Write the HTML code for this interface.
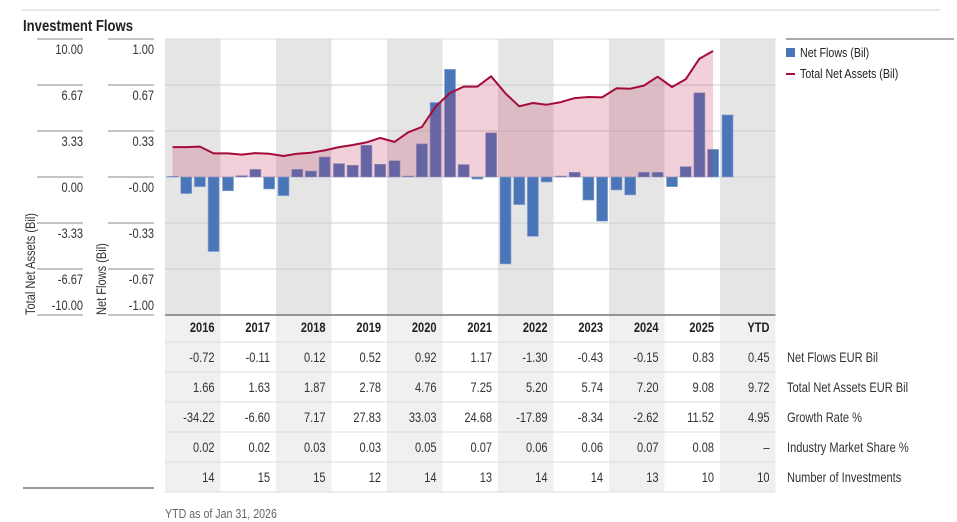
<!DOCTYPE html>
<html><head><meta charset="utf-8">
<style>
body{margin:0;background:#fff;}
svg{display:block;font-family:"Liberation Sans",sans-serif;}
</style></head>
<body>
<svg id="chart" width="957" height="522" viewBox="0 0 957 522">
<line x1="22" y1="10" x2="940" y2="10" stroke="#d0d0d0" stroke-width="1"/>
<text transform="translate(23,31) scale(0.82,1)" font-size="16" font-weight="bold" fill="#222">Investment Flows</text>
<g id="bg"></g>
<g id="grid"></g>
<g id="bars"></g>
<g id="area"></g>
<g id="axes"></g>
<g id="table"></g>
<g>
<line x1="786" y1="39" x2="954" y2="39" stroke="#555" stroke-width="1"/>
<rect x="786" y="48" width="9" height="9" fill="#4a76b8"/>
<text transform="translate(800,57) scale(0.82,1)" font-size="13" fill="#222">Net Flows (Bil)</text>
<line x1="786" y1="74" x2="795" y2="74" stroke="#a50b3a" stroke-width="2"/>
<text transform="translate(800,78) scale(0.82,1)" font-size="13" fill="#222">Total Net Assets (Bil)</text>
</g>
<line x1="23" y1="488" x2="154" y2="488" stroke="#333" stroke-width="1"/>
<text transform="translate(165,518) scale(0.82,1)" font-size="13" fill="#666">YTD as of Jan 31, 2026</text>
</svg>
<script>
const years = ["2016","2017","2018","2019","2020","2021","2022","2023","2024","2025","YTD"];
const flowQ = [
 [0.005,-0.12,-0.07,-0.54],[-0.10,0.01,0.055,-0.087],[-0.135,0.055,0.043,0.145],
 [0.097,0.085,0.23,0.092],[0.118,0.007,0.24,0.54],[0.78,0.09,-0.015,0.32],
 [-0.63,-0.20,-0.43,-0.036],[0.007,0.034,-0.167,-0.32],[-0.094,-0.13,0.034,0.034],
 [-0.07,0.075,0.61,0.20],[0.45]];
const tnaQ = [
 [2.17,2.17,2.2,1.71],[1.71,1.62,1.73,1.69],[1.52,1.69,1.76,1.93],
 [2.17,2.32,2.51,2.83],[2.54,3.24,3.62,5.1],[6.09,6.55,6.55,7.3],
 [6.06,5.12,5.36,5.24],[5.43,5.72,5.8,5.77],[6.43,6.4,6.62,7.27],
 [6.52,7.08,8.57,9.13]];
const flowTicks = ["1.00","0.67","0.33","-0.00","-0.33","-0.67","-1.00"];
const tnaTicks = ["10.00","6.67","3.33","0.00","-3.33","-6.67","-10.00"];
const rowLabels = ["Net Flows EUR Bil","Total Net Assets EUR Bil","Growth Rate %","Industry Market Share %","Number of Investments"];
const rowNetFlows = ["-0.72","-0.11","0.12","0.52","0.92","1.17","-1.30","-0.43","-0.15","0.83","0.45"];
const rowTNA = ["1.66","1.63","1.87","2.78","4.76","7.25","5.20","5.74","7.20","9.08","9.72"];
const rowGrowth = ["-34.22","-6.60","7.17","27.83","33.03","24.68","-17.89","-8.34","-2.62","11.52","4.95"];
const rowShare = ["0.02","0.02","0.03","0.03","0.05","0.07","0.06","0.06","0.07","0.08","–"];
const rowCount = ["14","15","15","12","14","13","14","14","13","10","10"];

const NS="http://www.w3.org/2000/svg";
function mk(tag,attrs,parent,txt){const e=document.createElementNS(NS,tag);for(const k in attrs)e.setAttribute(k,attrs[k]);if(txt!==undefined)e.textContent=txt;parent.appendChild(e);return e;}
function txt(parent,x,y,s,attrs,rot){const a=Object.assign({transform:'translate('+x+','+y+')'+(rot?' rotate('+rot+')':'')+' scale(0.82,1)','font-size':13.5,fill:'#333'},attrs||{});return mk('text',a,parent,s);}
const X0=165, CW=55.5, TOP=39, BOT=315, ZERO=177;
const colX=i=>X0+i*CW;
const yFlow=v=>ZERO-v*138;
const yTna=v=>ZERO-v*13.8;
const barX=(i,q)=>colX(i)+2+q*13.7;

const bg=document.getElementById('bg');
years.forEach((y,i)=>{
  if(i%2===0){
    const r=mk('rect',{x:colX(i),y:TOP,width:CW,height:BOT-TOP,fill:'#e5e5e5'},bg);
    
    
    const t=mk('rect',{x:colX(i),y:BOT,width:CW,height:492-BOT,fill:'#f0f0f0'},bg);
    
    
  }
});
const grid=document.getElementById('grid');
const axes=document.getElementById('axes');
flowTicks.forEach((lab,k)=>{
  const gy=TOP+k*46;
  const g=mk('line',{x1:X0,y1:gy,x2:colX(11),y2:gy,stroke:k===0?'#dcdcdc':'#cfcfcf','stroke-width':1},grid);
  
  
  mk('line',{x1:37,y1:gy,x2:83,y2:gy,stroke:'#888'},axes);
  mk('line',{x1:108,y1:gy,x2:154,y2:gy,stroke:'#888'},axes);
  const ty = k===6 ? 310 : gy+15;
  const a=txt(axes,83,ty,tnaTicks[k],{'text-anchor':'end'});
  
  
  const b=txt(axes,154,ty,lab,{'text-anchor':'end'});
  
  
});
mk('line',{x1:37,y1:BOT,x2:83,y2:BOT,stroke:'#888'},axes);
mk('line',{x1:108,y1:BOT,x2:154,y2:BOT,stroke:'#888'},axes);
mk('line',{x1:X0,y1:BOT,x2:colX(11),y2:BOT,stroke:'#777','stroke-width':1.5},axes);
const t1=txt(axes,35,315,'Total Net Assets (Bil)',{},-90);


const t2=txt(axes,106,315,'Net Flows (Bil)',{},-90);



const bars=document.getElementById('bars');
flowQ.forEach((qs,i)=>{
  qs.forEach((v,q)=>{
    const y1=yFlow(Math.max(v,0)), y2=yFlow(Math.min(v,0));
    const r=mk('rect',{x:barX(i,q),y:y1,width:11,height:Math.max(y2-y1,0.8),fill:'#4a76b8',stroke:'#8aa6d3','stroke-width':0.6},bars);
    
    
  });
});
const area=document.getElementById('area');
const pts=[];
tnaQ.forEach((qs,i)=>qs.forEach((v,q)=>pts.push([barX(i,q)+5.5,yTna(v)])));
const lineD=pts.map((p,i)=>(i?'L':'M')+p[0].toFixed(1)+','+p[1].toFixed(1)).join(' ');
const fill=mk('path',{d:lineD+' L'+pts[pts.length-1][0].toFixed(1)+','+ZERO+' L'+pts[0][0].toFixed(1)+','+ZERO+' Z',fill:'rgba(195,40,85,0.22)'},area);


const ln=mk('path',{d:lineD,fill:'none',stroke:'#a50b3a','stroke-width':2,'stroke-linejoin':'round'},area);



const table=document.getElementById('table');
years.forEach((y,i)=>{
  const h=txt(table,colX(i)+CW-6,332,y,{'text-anchor':'end','font-weight':'bold',fill:'#222'});
  
  
});
const rows=[rowNetFlows,rowTNA,rowGrowth,rowShare,rowCount];
rows.forEach((row,r)=>{
  const sy=342+r*30;
  mk('line',{x1:X0,y1:sy,x2:colX(11),y2:sy,stroke:'#dcdcdc'},table);
  row.forEach((v,i)=>{
    const c=txt(table,colX(i)+CW-6,sy+20,v,{'text-anchor':'end'});
    
    
  });
  const l=txt(table,787,sy+20,rowLabels[r],{});
  
  
});
mk('line',{x1:X0,y1:492,x2:colX(11),y2:492,stroke:'#dcdcdc'},table);
</script>
</body></html>
